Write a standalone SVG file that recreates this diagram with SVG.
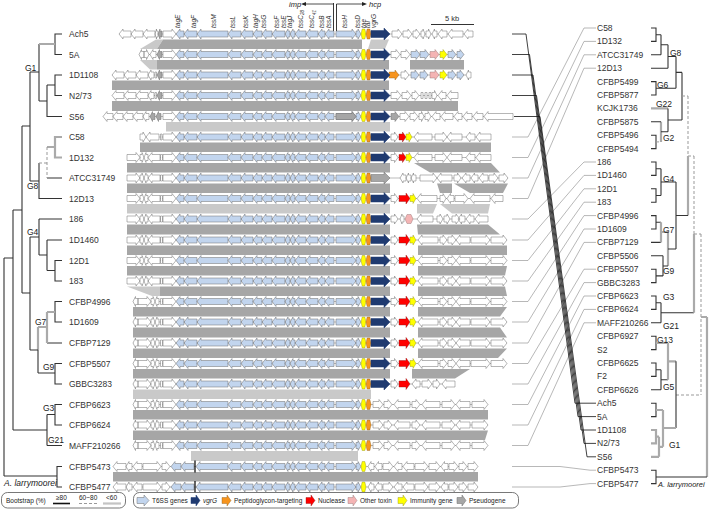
<svg xmlns="http://www.w3.org/2000/svg" xmlns:xlink="http://www.w3.org/1999/xlink" width="709" height="509" viewBox="0 0 709 509">
<style>
.w{fill:#fff;stroke:#6d6d6d;stroke-width:.5}
.b{fill:#c2d5ee;stroke:#6d6d6d;stroke-width:.5}
.n{fill:#1f3a70;stroke:#1f3a70;stroke-width:.5}
.o{fill:#f7941d;stroke:#8a5a1a;stroke-width:.4}
.r{fill:#ff0000;stroke:#8a1a1a;stroke-width:.4}
.p{fill:#f4b4b4;stroke:#8a6a6a;stroke-width:.4}
.y{fill:#ffff00;stroke:#8a8a1a;stroke-width:.4}
.g{fill:#a6a6a6;stroke:#6d6d6d;stroke-width:.5}
.bd{fill:#a6a6a6}
.bl{fill:#c9c9c9}
.ln{stroke:#777;stroke-width:.5;fill:none}
.t{stroke:#333;stroke-width:1.1;fill:none}
.tg{stroke:#aaa;stroke-width:2.2;fill:none}
.td{stroke:#999;stroke-width:1;stroke-dasharray:3 2;fill:none}
.cg{stroke:#9a9a9a;stroke-width:.7;fill:none}
.cb{stroke:#111;stroke-width:.8;fill:none}
text{font-family:"Liberation Sans",Arial,sans-serif;fill:#333}
.lab{font-size:8.5px}
.gl{font-size:8.5px;fill:#222}
.gn{font-size:6.5px;font-style:italic;fill:#222}
.gi{font-size:7.5px;font-style:italic;fill:#222}
.lg{font-size:6.5px;fill:#222}
.it{font-style:italic}
.al{font-size:7.5px;font-style:italic;fill:#222}
</style>
<defs>
<g id="c1">
<path class="w" d="M176,0l-4,-5v2h-9v6h9v2z"/>
<path class="b" d="M176,0l4,-5v2h4v6h-4v2zM184,0l4,-5v2h9v6h-9v2zM197,0l4,-5v2h27v6h-27v2z"/>
</g>
<g id="c2">
<path class="b" d="M228,0l4,-5v2h9v6h-9v2zM241,0l4,-5v2h8v6h-8v2zM253,0l4,-5v2h5v6h-5v2zM262,0l4,-5v2h6v6h-6v2zM272,0l4,-5v2h9v6h-9v2zM285,0l3,-5v2h2v6h-2v2zM290,0l3,-5v2h2v6h-2v2zM295,0l4,-5v2h7v6h-7v2zM306,0l4,-5v2h8v6h-8v2zM318,0l4,-5v2h3v6h-3v2zM325,0l4,-5v2h5v6h-5v2zM356,0l-4,-5v2h-16v6h16v2zM361,0l-3,-5v2h-2v6h2v2z"/>
</g>
<path id="ye" class="y" d="M361,0l1.2,-5h2.6l1.2,5l-1.2,5h-2.6z"/>
<path id="or" class="o" d="M366,0l1.2,-5h2.6l1.2,5l-1.2,5h-2.6z"/>
<path id="vg" class="n" d="M390,0l-6,-6v2.5h-13v7h13v2.5z"/>
<g id="core"><use href="#c1"/><use href="#c2"/><use href="#ye"/><use href="#or"/></g>
<g id="lfA"><path class="w" d="M140,0l-4,-5v2h-9v6h9v2zM144,0l-2,-5v2h-2v6h2v2zM144,0l2,-5v2h2v6h-2v2zM148,0l4,-5v2h8v6h-8v2zM160.5,-3h2v6h-2z"/></g>
<g id="lfB"><path class="w" d="M133,0l2.5,-5v2h2.5v6h-2.5v2zM151,0l-4,-5v2h-9v6h9v2zM155,0l-2,-5v2h-2v6h2v2zM155,0l2,-5v2h2v6h-2v2zM160.5,-3h2v6h-2z"/></g>
<g id="rfC"><path class="w" d="M398,0l-3.5,-5v2h-3.5v6h3.5v2zM414,0l4,-5v2h14v6h-14v2zM447,0l-4,-5v2h-8v6h8v2zM447,0l4,-5v2h11v6h-11v2zM466,0l4,-5v2h5v6h-5v2zM476,0l4,-5v2h11v6h-11v2z"/><path class="r" d="M406,0l-3.5,-5v2h-3.5v6h3.5v2z"/><path class="y" d="M412,0l-3,-5v2h-3v6h3v2z"/></g>
<g id="rfN"><path class="w" d="M398,0l-3.5,-5v2h-3.5v6h3.5v2zM418,0l4,-5v2h16v6h-16v2zM447,0l-4,-5v2h-3v6h3v2zM456,0l-4,-5v2h-4v6h4v2zM456,0l4,-5v2h10v6h-10v2zM490,0l-4,-5v2h-15v6h15v2zM507,0l-4,-5v2h-12v6h12v2z"/><path class="r" d="M410,0l-4,-5.5v2.5h-7v6h7v2.5z"/><path class="y" d="M416,0l-3,-5v2h-3v6h3v2z"/></g>
<g id="rfG3"><path class="w" d="M383,0l-4,-5v2h-6v6h6v2zM392,0l-4,-5v2h-4v6h4v2zM394,0l4,-5v2h12v6h-12v2zM420,0l-4,-5v2h-4v6h4v2zM422,0l4,-5v2h14v6h-14v2zM455,0l-4,-5v2h-9v6h9v2zM456,0l4,-5v2h10v6h-10v2zM488,0l-4,-5v2h-12v6h12v2z"/></g>
<g id="al">
<path class="w" d="M113,0l4,-5v2h9v6h-9v2zM126,0l3,-5v2h3v6h-3v2zM133,0l4,-5v2h5v6h-5v2zM161,0l-4,-5v2h-14v6h14v2zM170,0l-4,-5v2h-4v6h4v2zM368,0l3,-5v2h3v6h-3v2zM375,0l3.5,-5v2h3.5v6h-3.5v2zM393,0l-4,-5v2h-6v6h6v2zM394,0l4,-5v2h4v6h-4v2zM403,0l4,-5v2h7v6h-7v2zM428,0l-4,-5v2h-9v6h9v2zM440,0l-4,-5v2h-7v6h7v2zM441,0l3.5,-5v2h3.5v6h-3.5v2zM458,0l-4,-5v2h-5v6h5v2zM467,0l-4,-5v2h-4v6h4v2zM478,0l-4,-5v2h-6v6h6v2z"/>
<path class="b" d="M171,0l4,-5v2h6v6h-6v2zM181,0l4,-5v2h9v6h-9v2zM196,0l4,-5v2h28v6h-28v2z"/>
<use href="#c2"/><use href="#ye"/>
<path d="M195,-6V6" stroke="#000" stroke-width="1.2"/>
</g>
</defs>

<g id="bands">
<polygon class="bl" points="156,39.5 163,39.5 157,49 140,49"/>
<polygon class="bd" points="163,39.5 362,39.5 362,49 157,49"/>
<polygon class="bl" points="371,39.5 389,39.5 385,49 368,49"/>
<polygon class="bl" points="140,60 157,60 157,69.5 150,69.5"/>
<polygon class="bd" points="157,60 389,60 389,69.5 157,69.5"/>
<polygon class="bd" points="410,60 464,60 464,69.5 410,69.5"/>
<polygon class="bd" points="112,80.5 389,80.5 389,90 112,90"/>
<polygon class="bd" points="112,101 458,101 458,111 112,111"/>
<polygon class="bl" points="166,122 390,122 390,131.5 166,131.5"/>
<polygon class="bd" points="140,142.5 491,142.5 491,152 140,152"/>
<polygon class="bd" points="127,163 390,163 390,172.5 127,172.5"/>
<polygon class="bd" points="414,163 491,163 500,172.5 430,172.5"/>
<polygon class="bd" points="127,183.5 390,183.5 390,193 127,193"/>
<polygon class="bd" points="437,183.5 452,183.5 452,193 440,193"/>
<polygon class="bd" points="454,183.5 508,183.5 503,193 470,193"/>
<polygon class="bl" points="127,204 390,204 390,213.5 127,213.5"/>
<polygon class="bl" points="417,204 437,204 433,213.5 417,213.5"/>
<polygon class="bl" points="440,204 490,204 488,213.5 452,213.5"/>
<polygon class="bd" points="127,224.5 390,224.5 390,234.5 127,234.5"/>
<polygon class="bd" points="417,224.5 488,224.5 500,234.5 418,234.5"/>
<polygon class="bd" points="127,245.5 390,245.5 390,255 127,255"/>
<polygon class="bd" points="418,245.5 507,245.5 507,255 418,255"/>
<polygon class="bd" points="127,266 390,266 390,275.5 127,275.5"/>
<polygon class="bd" points="418,266 507,266 505,275.5 418,275.5"/>
<polygon class="bl" points="127,286.5 160,286.5 160,296 152,296"/>
<polygon class="bd" points="160,286.5 390,286.5 390,296 160,296"/>
<polygon class="bd" points="418,286.5 505,286.5 507,296 418,296"/>
<polygon class="bd" points="133,307 390,307 390,316.5 133,316.5"/>
<polygon class="bd" points="418,307 507,307 500,316.5 418,316.5"/>
<polygon class="bd" points="133,327.5 390,327.5 390,337.5 133,337.5"/>
<polygon class="bd" points="418,327.5 500,327.5 507,337.5 418,337.5"/>
<polygon class="bd" points="133,348.5 390,348.5 390,358 133,358"/>
<polygon class="bd" points="418,348.5 507,348.5 498,358 418,358"/>
<polygon class="bd" points="133,369 390,369 390,378.5 133,378.5"/>
<polygon class="bd" points="412,369 470,369 455,378.5 412,378.5"/>
<polygon class="bl" points="133,389.5 371,389.5 371,399 133,399"/>
<polygon class="bd" points="133,410 488,410 488,419.5 133,419.5"/>
<polygon class="bd" points="133,430.5 488,430.5 485,440 133,440"/>
<polygon class="bl" points="191,451 358,451 358,461 191,461"/>
<polygon class="bd" points="113,472 478,472 478,481.5 113,481.5"/>
</g>

<g id="header">
<g class="gn">
<text transform="translate(179.5,28) rotate(-90)">tagE</text>
<text transform="translate(196,28) rotate(-90)">tagF</text>
<text transform="translate(216,28) rotate(-90)">tssM</text>
<text transform="translate(235,28) rotate(-90)">tssL</text>
<text transform="translate(247.5,28) rotate(-90)">tssK</text>
<text transform="translate(257.5,28) rotate(-90)">tagH</text>
<text transform="translate(266,28) rotate(-90)">tssG</text>
<text transform="translate(279,28) rotate(-90)">tssF</text>
<text transform="translate(285.5,28) rotate(-90)">tssE</text>
<text transform="translate(291.5,28) rotate(-90)">tagJ</text>
<text transform="translate(302.5,28) rotate(-90)">tssC<tspan font-size="4.5" dy="1.5">28</tspan></text>
<text transform="translate(314,28) rotate(-90)">tssC<tspan font-size="4.5" dy="1.5">41</tspan></text>
<text transform="translate(323.5,28) rotate(-90)">tssB</text>
<text transform="translate(331,28) rotate(-90)">tssA</text>
<text transform="translate(347,28) rotate(-90)">tssH</text>
<text transform="translate(360,28) rotate(-90)">tssD</text>
<text transform="translate(365.5,28) rotate(-90)">tae</text>
<text transform="translate(370,28) rotate(-90)">tai</text>
<text transform="translate(376,28) rotate(-90)">vgrG</text>
</g>
<path d="M333.5,3V32M336.5,4V32" stroke="#222" stroke-width=".9" fill="none"/>
<path d="M333.5,4H305M336.5,4H362" stroke="#222" stroke-width=".8" fill="none"/>
<polygon points="301,4 306,2 306,6" fill="#222"/>
<polygon points="367,4 362,2 362,6" fill="#222"/>
<text class="gi" x="289" y="7">imp</text>
<text class="gi" x="369" y="7">hcp</text>
<path d="M431,24.5H474" stroke="#333" stroke-width="1"/>
<text x="445" y="21" font-size="7.5">5 kb</text>
</g>

<g id="row-Ach5" transform="translate(0,34)">
<path class="ln" d="M119,0H473"/>
<path class="w" d="M119,0l4,-5v2h8v6h-8v2zM131,0l4,-5v2h8v6h-8v2zM143,0l4,-5v2h8v6h-8v2zM155,0l1.5,-5v2h1.5v6h-1.5v2zM402,0l-4,-5v2h-6v6h6v2zM412,0l-4,-5v2h-5v6h5v2zM420,0l-4,-5v2h-3v6h3v2zM425,0l-2,-5v2h-2v6h2v2zM431,0l-2.5,-5v2h-2.5v6h2.5v2zM432,0l2.5,-5v2h2.5v6h-2.5v2zM438,0l4,-5v2h5v6h-5v2zM448,0l4,-5v2h11v6h-11v2zM464,0l4,-5v2h5v6h-5v2z"/>
<path class="g" d="M158,0l2,-5v2h2v6h-2v2z"/>
<use href="#core"/><use href="#vg"/>
<text class="lab" x="69" y="3">Ach5</text>
</g>
<g id="row-5A" transform="translate(0,54.5)">
<path class="ln" d="M139,0H464"/>
<path class="w" d="M139,0l2.5,-5v2h2.5v6h-2.5v2zM149,0l-2.5,-5v2h-2.5v6h2.5v2zM150,0l3,-5v2h3v6h-3v2zM400,0l-4,-5v2h-5v6h5v2zM410,0l-4,-5v2h-5v6h5v2z"/>
<path class="g" d="M157,0l2.5,-5v2h2.5v6h-2.5v2z"/>
<path class="b" d="M420,0l-4,-5v2h-5v6h5v2zM429,0l-4,-5v2h-5v6h5v2zM456,0l-4,-5v2h-4v6h4v2zM464,0l-4,-5v2h-3v6h3v2z"/>
<path class="p" d="M439,0l-4,-5v2h-5v6h5v2z"/>
<path class="y" d="M447,0l-4,-5v2h-3v6h3v2z"/>
<use href="#core"/><use href="#vg"/>
<text class="lab" x="69" y="3">5A</text>
</g>
<g id="row-1D1108" transform="translate(0,75)">
<path class="ln" d="M112,0H471"/>
<path class="w" d="M112,0l4,-5v2h8v6h-8v2zM124,0l4,-5v2h8v6h-8v2zM136,0l4,-5v2h8v6h-8v2zM148,0l3,-5v2h3v6h-3v2zM155,-3h1.5v6h-1.5zM409,0l-4,-5v2h-4v6h4v2zM466,0l2.5,-5v2h2.5v6h-2.5v2z"/>
<path class="g" d="M157,0l2.5,-5v2h2.5v6h-2.5v2z"/>
<path class="o" d="M399,0l-4,-5v2h-6v6h6v2z"/>
<path class="b" d="M419,0l-4,-5v2h-4v6h4v2zM428,0l-4,-5v2h-4v6h4v2zM456,0l-4,-5v2h-4v6h4v2zM464,0l-4,-5v2h-3v6h3v2z"/>
<path class="p" d="M439,0l-4,-5v2h-5v6h5v2z"/>
<path class="y" d="M447,0l-4,-5v2h-3v6h3v2z"/>
<use href="#core"/><use href="#vg"/>
<text class="lab" x="69" y="3">1D1108</text>
</g>
<g id="row-N2-73" transform="translate(0,95.5)">
<path class="ln" d="M112,0H458"/>
<path class="w" d="M112,0l4,-5v2h8v6h-8v2zM124,0l4,-5v2h8v6h-8v2zM136,0l4,-5v2h8v6h-8v2zM148,0l3,-5v2h3v6h-3v2zM155,-3h1.5v6h-1.5zM401,0l-4,-5v2h-6v6h6v2zM411,0l-4,-5v2h-5v6h5v2zM419,0l-4,-5v2h-3v6h3v2zM421,-3h2v6h-2zM425,-3h2v6h-2zM429,-3h2v6h-2zM437,0l-2.5,-5v2h-2.5v6h2.5v2zM438,0l4,-5v2h4v6h-4v2zM447,0l4,-5v2h7v6h-7v2z"/>
<path class="g" d="M157,0l2.5,-5v2h2.5v6h-2.5v2z"/>
<use href="#core"/><use href="#vg"/>
<text class="lab" x="69" y="3">N2/73</text>
</g>
<g id="row-S56" transform="translate(0,116.5)">
<path class="ln" d="M103,0H513"/>
<path class="w" d="M103,0l4,-5v2h6v6h-6v2zM113,0l4,-5v2h6v6h-6v2zM123,0l4,-5v2h6v6h-6v2zM133,0l4,-5v2h6v6h-6v2zM143,0l3,-5v2h3v6h-3v2zM409,0l-4,-5v2h-5v6h5v2zM418,0l-4,-5v2h-4v6h4v2zM424,0l-2.5,-5v2h-2.5v6h2.5v2zM431,0l-3,-5v2h-3v6h3v2zM432,0l4,-5v2h4v6h-4v2zM441,0l4,-5v2h8v6h-8v2zM454,0l4,-5v2h4v6h-4v2zM463,0l4,-5v2h5v6h-5v2zM473,0l4,-5v2h6v6h-6v2zM484,0l4,-5v2h25v6h-25v2z"/>
<path class="g" d="M150,0l2.5,-5v2h2.5v6h-2.5v2zM156,0l2.5,-5v2h2.5v6h-2.5v2zM399,0l-4,-5v2h-4v6h4v2z"/>
<use href="#c1"/><use href="#c2"/>
<path class="g" d="M356,0l-4,-5v2h-16v6h16v2z"/>
<use href="#ye"/><use href="#or"/><use href="#vg"/>
<text class="lab" x="69" y="3">S56</text>
</g>
<g id="row-C58" transform="translate(0,137)">
<path class="ln" d="M140,0H491"/>
<path class="w" d="M146,0l-3,-5v2h-3v6h3v2zM146,0l4,-5v2h9v6h-9v2zM160.5,-3h1.5v6h-1.5z"/>
<use href="#core"/><use href="#vg"/><use href="#rfC"/>
<text class="lab" x="69" y="3">C58</text>
</g>
<g id="row-1D132" transform="translate(0,157.5)">
<path class="ln" d="M127,0H491"/>
<use href="#lfA"/><use href="#core"/><use href="#vg"/><use href="#rfC"/>
<text class="lab" x="69" y="3">1D132</text>
</g>
<g id="row-ATCC31749" transform="translate(0,178)">
<path class="ln" d="M127,0H508"/>
<use href="#lfA"/><use href="#core"/>
<path class="g" d="M390,0l-6,-6v2.5h-13v7h13v2.5z"/>
<path class="w" d="M400,0l3,-5v2h3v6h-3v2zM406,0l2.5,-5v2h2.5v6h-2.5v2zM411,0l2.5,-5v2h2.5v6h-2.5v2zM437,0l-4,-5v2h-13v6h13v2zM437,0l4,-5v2h11v6h-11v2zM461,0l-3.5,-5v2h-3.5v6h3.5v2zM462,0l4,-5v2h4v6h-4v2zM471,0l3.5,-5v2h3.5v6h-3.5v2zM479,0l4,-5v2h5v6h-5v2zM498,0l-4,-5v2h-5v6h5v2zM508,0l-4,-5v2h-5v6h5v2z"/>
<text class="lab" x="69" y="3">ATCC31749</text>
</g>
<g id="row-12D13" transform="translate(0,198.5)">
<path class="ln" d="M127,0H503"/>
<use href="#lfA"/><use href="#core"/><use href="#vg"/>
<path class="w" d="M398,0l-3.5,-5v2h-3.5v6h3.5v2zM417,0l4,-5v2h16v6h-16v2zM446,0l-3,-5v2h-3v6h3v2zM447,0l3.5,-5v2h3.5v6h-3.5v2zM468,0l-4,-5v2h-9v6h9v2zM470,0l4,-5v2h16v6h-16v2zM491,0l4,-5v2h8v6h-8v2z"/>
<path class="r" d="M410,0l-4,-5.5v2.5h-7v6h7v2.5z"/>
<path class="y" d="M416,0l-3,-5v2h-3v6h3v2z"/>
<text class="lab" x="69" y="3">12D13</text>
</g>
<g id="row-186" transform="translate(0,219)">
<path class="ln" d="M127,0H488"/>
<use href="#lfA"/><use href="#core"/><use href="#vg"/>
<path class="w" d="M398,0l-3.5,-5v2h-3.5v6h3.5v2zM400,0l2,-5v2h2v6h-2v2zM417,0l4,-5v2h12v6h-12v2zM443,0l-3,-5v2h-3v6h3v2zM450,0l-3,-5v2h-3v6h3v2zM460,0l-4,-5v2h-4v6h4v2zM458,0l3.5,-5v2h3.5v6h-3.5v2zM466,0l4,-5v2h4v6h-4v2zM475,0l4,-5v2h9v6h-9v2z"/>
<path class="p" d="M405,0l2,-4.5h4l2,4.5l-2,4.5h-4z"/>
<text class="lab" x="69" y="3">186</text>
</g>
<g id="row-1D1460" transform="translate(0,240)">
<path class="ln" d="M127,0H507"/>
<use href="#lfA"/><use href="#core"/><use href="#vg"/><use href="#rfN"/>
<text class="lab" x="69" y="3">1D1460</text>
</g>
<g id="row-12D1" transform="translate(0,260.5)">
<path class="ln" d="M127,0H507"/>
<use href="#lfA"/><use href="#core"/><use href="#vg"/><use href="#rfN"/>
<text class="lab" x="69" y="3">12D1</text>
</g>
<g id="row-183" transform="translate(0,281)">
<path class="ln" d="M127,0H507"/>
<use href="#lfA"/><use href="#core"/><use href="#vg"/><use href="#rfN"/>
<text class="lab" x="69" y="3">183</text>
</g>
<g id="row-CFBP4996" transform="translate(0,301.5)">
<path class="ln" d="M133,0H507"/>
<use href="#lfB"/><use href="#core"/><use href="#vg"/><use href="#rfN"/>
<text class="lab" x="69" y="3">CFBP4996</text>
</g>
<g id="row-1D1609" transform="translate(0,322)">
<path class="ln" d="M133,0H507"/>
<use href="#lfB"/><use href="#core"/><use href="#vg"/><use href="#rfN"/>
<text class="lab" x="69" y="3">1D1609</text>
</g>
<g id="row-CFBP7129" transform="translate(0,343)">
<path class="ln" d="M133,0H507"/>
<use href="#lfB"/><use href="#core"/><use href="#vg"/><use href="#rfN"/>
<text class="lab" x="69" y="3">CFBP7129</text>
</g>
<g id="row-CFBP5507" transform="translate(0,363.5)">
<path class="ln" d="M133,0H507"/>
<use href="#lfB"/><use href="#core"/><use href="#vg"/><use href="#rfN"/>
<text class="lab" x="69" y="3">CFBP5507</text>
</g>
<g id="row-GBBC3283" transform="translate(0,384)">
<path class="ln" d="M133,0H455"/>
<use href="#lfB"/><use href="#core"/><use href="#vg"/>
<path class="w" d="M398,0l-3.5,-5v2h-3.5v6h3.5v2zM412,0l4,-5v2h4v6h-4v2zM432,0l-4,-5v2h-6v6h6v2zM440,0l-3.5,-5v2h-3.5v6h3.5v2zM442,0l4,-5v2h9v6h-9v2z"/>
<path class="r" d="M410,0l-4,-5.5v2.5h-7v6h7v2.5z"/>
<text class="lab" x="69" y="3">GBBC3283</text>
</g>
<g id="row-CFBP6623" transform="translate(0,404.5)">
<path class="ln" d="M133,0H488"/>
<use href="#lfB"/><use href="#core"/><use href="#rfG3"/>
<text class="lab" x="69" y="3">CFBP6623</text>
</g>
<g id="row-CFBP6624" transform="translate(0,425)">
<path class="ln" d="M133,0H488"/>
<use href="#lfB"/><use href="#core"/><use href="#rfG3"/>
<text class="lab" x="69" y="3">CFBP6624</text>
</g>
<g id="row-MAFF210266" transform="translate(0,445.5)">
<path class="ln" d="M133,0H488"/>
<use href="#lfB"/><use href="#core"/><use href="#rfG3"/>
<text class="lab" x="69" y="3">MAFF210266</text>
</g>
<g id="row-CFBP5473" transform="translate(0,466.5)">
<path class="ln" d="M113,0H478"/>
<use href="#al"/>
<text class="lab" x="69" y="3">CFBP5473</text>
</g>
<g id="row-CFBP5477" transform="translate(0,487)">
<path class="ln" d="M113,0H478"/>
<use href="#al"/>
<text class="lab" x="69" y="3">CFBP5477</text>
</g>

<g id="left-tree">
<path class="t" d="M62,34H55V54.5H62M62,75H55V95.5H62M55,85H47M62,116.5H47V85M47,101H39M39,44V101M39,72H30"/>
<path class="tg" d="M55,44H39M62,137H55V157.5H62M55,147H47"/>
<path class="t" d="M62,178H47M62,198.5H39V163M39,181H30M30,72V181M30,126H22"/>
<path class="td" d="M47,147V178M47,163H39"/>
<path class="t" d="M62,219H39M62,240H47M62,260.5H55V281H62M55,270.5H47M47,240V270.5M47,255H39M39,219V255M39,237H30"/>
<path class="t" d="M62,301.5H55V322H62M62,343H47"/>
<path class="tg" d="M55,312H47M47,312V343M47,327H38M38,327V350"/>
<path class="t" d="M38,350V373M62,363.5H55V384H62M55,373H38M38,350H30M30,237V350M30,293H22M22,126V293M22,210H13"/>
<path class="t" d="M62,404.5H55V425H62M55,414.5H47M62,445.5H47M47,414.5V445.5M47,430H13M13,210V430M13,258H4M4,258V476M4,476H57M62,466.5H57V487H62"/>
<text class="gl" x="25" y="71">G1</text>
<text class="gl" x="27" y="189">G8</text>
<text class="gl" x="27" y="235">G4</text>
<text class="gl" x="35" y="325">G7</text>
<text class="gl" x="43" y="370">G9</text>
<text class="gl" x="43" y="411">G3</text>
<text class="gl" x="48" y="443">G21</text>
<text class="gl it" x="4" y="486">A. larrymoorei</text>
</g>

<g id="connectors">
<path class="cg" d="M512,137H528L584,28H596M512,157.5H528L584,41.4H596M512,178H528L584,54.8H596M512,198.5H528L584,68.2H596M512,219H528L584,162H596M512,240H528L584,175.4H596M512,260.5H528L584,188.8H596M512,281H528L584,202.2H596M512,301.5H528L584,215.6H596M512,322H528L584,229H596M512,343H528L584,242.4H596M512,363.5H528L584,269.2H596M512,384H528L584,282.6H596M512,404.5H528L584,296H596M512,425H528L584,309.4H596M512,445.5H528L584,322.8H596M512,466.5H560L590,470.2H596M512,487H560L590,483.6H596"/>
<path class="cb" d="M512,34H526L575,403.2H596M512,54.5H529.5L578,416.6H596M512,75H533L581,430H596M512,95.5H536.5L584,443.4H596M514,116.5H540L587,456.8H596"/>
</g>

<g id="right-labels" class="lab">
<text x="597" y="31">C58</text>
<text x="597" y="44.4">1D132</text>
<text x="597" y="57.8">ATCC31749</text>
<text x="597" y="71.2">12D13</text>
<text x="597" y="84.6">CFBP5499</text>
<text x="597" y="98">CFBP5877</text>
<text x="597" y="111.4">KCJK1736</text>
<text x="597" y="124.8">CFBP5875</text>
<text x="597" y="138.2">CFBP5496</text>
<text x="597" y="151.6">CFBP5494</text>
<text x="597" y="165">186</text>
<text x="597" y="178.4">1D1460</text>
<text x="597" y="191.8">12D1</text>
<text x="597" y="205.2">183</text>
<text x="597" y="218.6">CFBP4996</text>
<text x="597" y="232">1D1609</text>
<text x="597" y="245.4">CFBP7129</text>
<text x="597" y="258.8">CFBP5506</text>
<text x="597" y="272.2">CFBP5507</text>
<text x="597" y="285.6">GBBC3283</text>
<text x="597" y="299">CFBP6623</text>
<text x="597" y="312.4">CFBP6624</text>
<text x="597" y="325.8">MAFF210266</text>
<text x="597" y="339.2">CFBP6927</text>
<text x="597" y="352.6">S2</text>
<text x="597" y="366">CFBP6625</text>
<text x="597" y="379.4">F2</text>
<text x="597" y="392.8">CFBP6626</text>
<text x="597" y="406.2">Ach5</text>
<text x="597" y="419.6">5A</text>
<text x="597" y="433">1D1108</text>
<text x="597" y="446.4">N2/73</text>
<text x="597" y="459.8">S56</text>
<text x="597" y="473.2">CFBP5473</text>
<text x="597" y="486.6">CFBP5477</text>
</g>

<g id="right-tree">
<path class="t" d="M651,28H656V41.4H651M656,34.7H661M651,54.8H661M661,34.7V54.8M661,44.8H668M651,68.2H668M668,44.8V68.2M668,56.5H676M651,81.6H656V95H651M656,88.3H676M676,56.5V88.3M676,72.4H682"/>
<path class="tg" d="M651,108.4H668M661,121.8V141.9"/>
<path class="t" d="M651,121.8H661M651,135.2H656V148.6H651M661,131.8H668M668,108.4V131.8M668,120H682M682,72.4V120"/>
<path class="td" d="M656,141.9H661M682,96H688M688,96V156M688,156H694M694,156V234M694,234H701M701,234V395M676,395H701"/>
<path class="tg" d="M688,156V215.5"/>
<path class="t" d="M651,162H656V175.4H651M656,168.7H661M651,188.8H656V202.2H651M656,195.5H661M661,168.7V195.5M661,182H676"/>
<path class="t" d="M651,215.6H656V229H651M656,222.3H661M651,242.4H661"/>
<path class="tg" d="M661,222.3V242.4M661,232H668M668,232V266"/>
<path class="t" d="M651,255.8H663M651,269.2H656V282.6H651M656,275.9H663M663,255.8V275.9M663,266H668M668,249H676M676,182V249M676,215.5H688"/>
<path class="t" d="M651,296H656V309.4H651M656,302.7H661M651,322.8H661M661,302.7V322.8M661,312.7H694"/>
<path class="tg" d="M694,234V312.7"/>
<path class="t" d="M651,336.2H656V349.6H651M651,363H656V376.4H651M656,369.7H661M651,389.8H661M661,369.7V389.8M661,379.8H668"/>
<path class="tg" d="M656,342.9H668M668,342.9V379.8M668,361.3H676"/>
<path class="t" d="M676,361.3V428M651,403.2H656V416.6H651"/>
<path class="tg" d="M656,410H663M651,430H656V443.4H651M656,436.7H659M651,456.8H659M659,436.7V456.8M659,446.8H663M663,410V446.8M663,428H676"/>
<path class="tg" d="M701,317H707M707,317V477"/>
<path class="t" d="M656,477H707M651,470.2H656V483.6H651"/>
<text class="gl" x="670" y="56">G8</text>
<text class="gl" x="657" y="88">G6</text>
<text class="gl" x="656" y="107">G22</text>
<text class="gl" x="663" y="141">G2</text>
<text class="gl" x="663" y="182">G4</text>
<text class="gl" x="663" y="233">G7</text>
<text class="gl" x="663" y="274">G9</text>
<text class="gl" x="663" y="300">G3</text>
<text class="gl" x="663" y="329">G21</text>
<text class="gl" x="657" y="343">G13</text>
<text class="gl" x="663" y="390">G5</text>
<text class="gl" x="669" y="448">G1</text>
<text class="al" x="658" y="487">A. larrymoorei</text>
</g>

<g id="legend">
<rect x="1.5" y="492.5" width="124" height="15.5" rx="6" fill="#fff" stroke="#555" stroke-width=".8"/>
<text class="lg" x="6" y="503">Bootstrap (%)</text>
<text class="lg" x="56" y="499.5">≥80</text>
<path d="M53,503.5H70" stroke="#111" stroke-width="1.6"/>
<text class="lg" x="79" y="499.5">60~80</text>
<path class="td" d="M79,503.5H97"/>
<text class="lg" x="106" y="499.5">&lt;60</text>
<path d="M103,503.5H121" stroke="#c4c4c4" stroke-width="2.2"/>
<rect x="133.5" y="492.5" width="385" height="15.5" rx="6" fill="#fff" stroke="#555" stroke-width=".8"/>
<g transform="translate(0,500.5)">
<path class="b" d="M149,0l-5,-5.5v2.5h-7v6h7v2.5z"/>
<path class="n" d="M200,0l-4,-5.5v2.5h-5v6h5v2.5z"/>
<path class="o" d="M231,0l-4,-5.5v2.5h-5v6h5v2.5z"/>
<path class="r" d="M315,0l-4,-5.5v2.5h-5v6h5v2.5z"/>
<path class="p" d="M357,0l-4,-5.5v2.5h-5v6h5v2.5z"/>
<path class="y" d="M407,0l-4,-5.5v2.5h-5v6h5v2.5z"/>
<path class="g" d="M466,0l-4,-5.5v2.5h-5v6h5v2.5z"/>
</g>
<text class="lg" x="152" y="503">T6SS genes</text>
<text class="lg it" x="203" y="503">vgrG</text>
<text class="lg" x="234" y="503">Peptidoglycon-targeting</text>
<text class="lg" x="318" y="503">Nuclease</text>
<text class="lg" x="360" y="503">Other toxin</text>
<text class="lg" x="410" y="503">Immunity gene</text>
<text class="lg" x="469" y="503">Pseudogene</text>
</g>
</svg>
